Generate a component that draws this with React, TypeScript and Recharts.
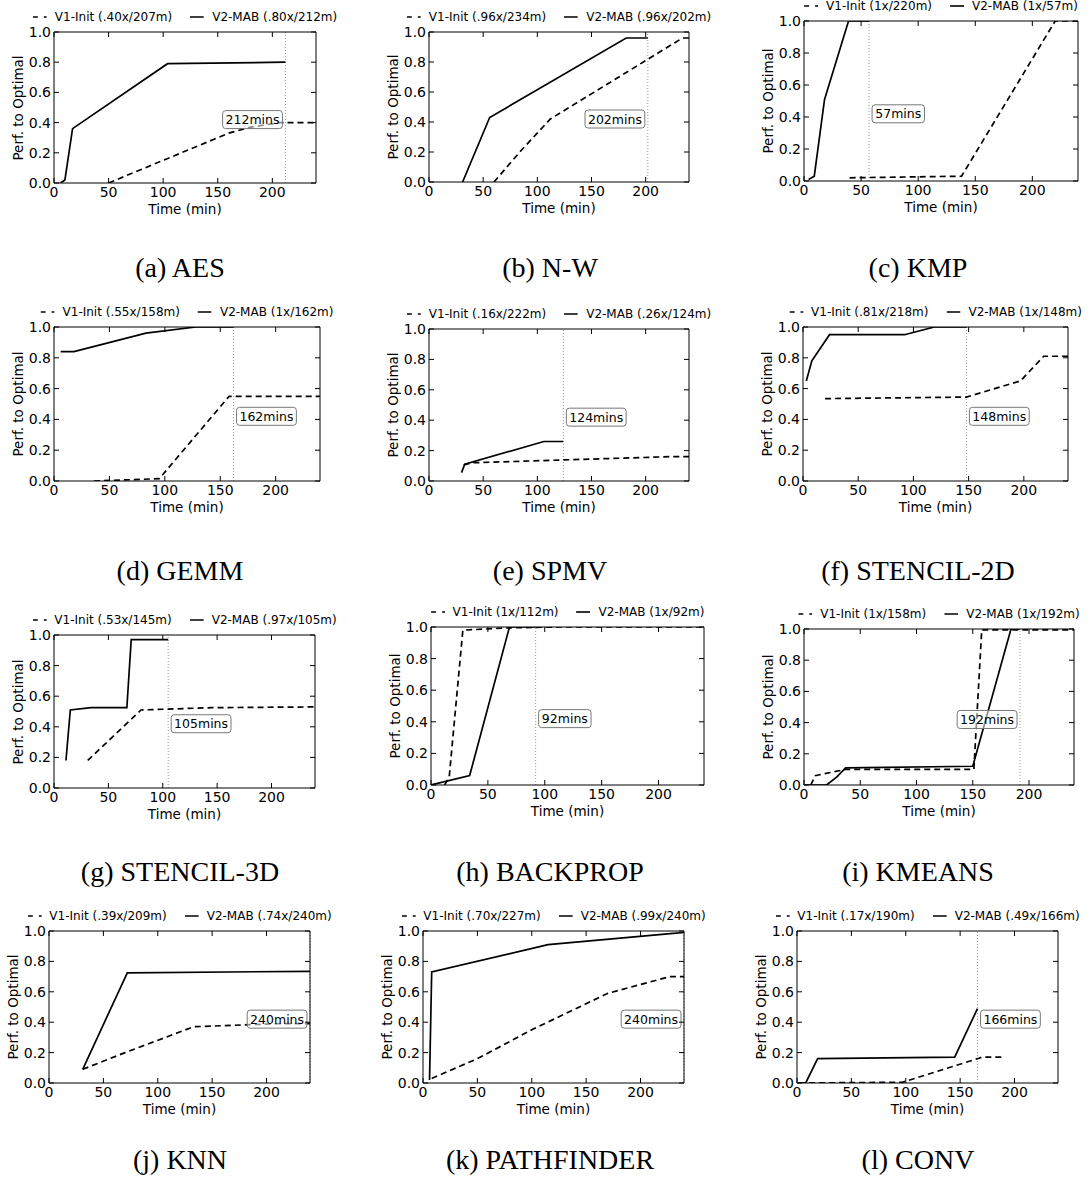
import React from 'react';
import { LineChart, Line, XAxis, YAxis, ReferenceLine, ReferenceDot } from 'recharts';

type Pt = { t: number; p: number };
const pts = (rows: number[][]): Pt[] => rows.map(([t, p]) => ({ t, p }));

// time (min) vs perf. to optimal
const aesInit = pts([[50, 0], [160, 0.33], [180, 0.37], [207, 0.4], [240, 0.4]]);
const aesMab = pts([[6, 0], [10, 0.02], [17, 0.36], [104, 0.79], [212, 0.8]]);
const nwInit = pts([[60, 0], [85, 0.21], [112, 0.42], [234, 0.96], [240, 0.96]]);
const nwMab = pts([[31, 0], [56, 0.43], [182, 0.96], [202, 0.96]]);
const kmpInit = pts([[40, 0.02], [138, 0.03], [220, 1.0], [240, 1.0]]);
const kmpMab = pts([[4, 0.01], [9, 0.03], [18, 0.51], [39, 1.0], [57, 1.0]]);
const gemmInit = pts([[36, 0], [95, 0.015], [158, 0.55], [240, 0.55]]);
const gemmMab = pts([[6, 0.84], [18, 0.84], [83, 0.96], [128, 1.0], [162, 1.0]]);
const spmvInit = pts([[32, 0.105], [40, 0.12], [222, 0.16], [240, 0.16]]);
const spmvMab = pts([[30, 0.055], [33, 0.11], [106, 0.26], [124, 0.26]]);
const st2Init = pts([[20, 0.535], [148, 0.545], [197, 0.65], [218, 0.81], [240, 0.81]]);
const st2Mab = pts([[3, 0.65], [8, 0.78], [24, 0.95], [92, 0.95], [119, 1.0], [148, 1.0]]);
const st3Init = pts([[31, 0.18], [80, 0.51], [145, 0.525], [240, 0.53]]);
const st3Mab = pts([[11, 0.18], [15, 0.51], [34, 0.525], [67, 0.525], [71, 0.97], [105, 0.97]]);
const bpInit = pts([[12, 0], [16, 0.05], [28, 0.98], [70, 0.995], [112, 1.0], [240, 1.0]]);
const bpMab = pts([[0, 0], [34, 0.06], [69, 1.0], [92, 1.0]]);
const kmInit = pts([[6, 0], [10, 0.06], [37, 0.1], [151, 0.1], [158, 0.995], [240, 0.995]]);
const kmMab = pts([[1, 0], [20, 0], [29, 0.05], [37, 0.11], [150, 0.12], [184, 1.0], [192, 1.0]]);
const knnInit = pts([[31, 0.09], [70, 0.2], [133, 0.37], [209, 0.39], [240, 0.39]]);
const knnMab = pts([[31, 0.09], [72, 0.725], [240, 0.735]]);
const pfInit = pts([[8, 0.03], [50, 0.16], [100, 0.35], [170, 0.59], [227, 0.7], [240, 0.7]]);
const pfMab = pts([[6, 0.02], [8, 0.73], [115, 0.91], [230, 0.985], [240, 0.99]]);
const convInit = pts([[2, 0], [97, 0.005], [166, 0.16], [170, 0.17], [190, 0.17]]);
const convMab = pts([[1, 0], [8, 0], [19, 0.16], [145, 0.17], [166, 0.49]]);

const X_TICKS = [0, 50, 100, 150, 200];
const Y_TICKS = [0, 0.2, 0.4, 0.6, 0.8, 1.0];
const MAX_T = 240;
const LABEL_Y = 0.42;

const SANS = 'DejaVu Sans, sans-serif';
const TICK_FS = 14;

const panels = [
  { cap: '(a) AES', init: aesInit, mab: aesMab, v1: '.40x/207m', v2: '.80x/212m', mins: 212, px: 54, py: 32, pw: 262, ph: 151 },
  { cap: '(b) N-W', init: nwInit, mab: nwMab, v1: '.96x/234m', v2: '.96x/202m', mins: 202, px: 429, py: 32, pw: 260, ph: 150 },
  { cap: '(c) KMP', init: kmpInit, mab: kmpMab, v1: '1x/220m', v2: '1x/57m', mins: 57, px: 804, py: 21, pw: 274, ph: 160 },
  { cap: '(d) GEMM', init: gemmInit, mab: gemmMab, v1: '.55x/158m', v2: '1x/162m', mins: 162, px: 54, py: 327, pw: 266, ph: 154 },
  { cap: '(e) SPMV', init: spmvInit, mab: spmvMab, v1: '.16x/222m', v2: '.26x/124m', mins: 124, px: 429, py: 329, pw: 260, ph: 152 },
  { cap: '(f) STENCIL-2D', init: st2Init, mab: st2Mab, v1: '.81x/218m', v2: '1x/148m', mins: 148, px: 803, py: 327, pw: 265, ph: 154 },
  { cap: '(g) STENCIL-3D', init: st3Init, mab: st3Mab, v1: '.53x/145m', v2: '.97x/105m', mins: 105, px: 54, py: 635, pw: 261, ph: 153 },
  { cap: '(h) BACKPROP', init: bpInit, mab: bpMab, v1: '1x/112m', v2: '1x/92m', mins: 92, px: 431, py: 627, pw: 273, ph: 158 },
  { cap: '(i) KMEANS', init: kmInit, mab: kmMab, v1: '1x/158m', v2: '1x/192m', mins: 192, px: 804, py: 629, pw: 270, ph: 156 },
  { cap: '(j) KNN', init: knnInit, mab: knnMab, v1: '.39x/209m', v2: '.74x/240m', mins: 240, px: 49, py: 931, pw: 261, ph: 152 },
  { cap: '(k) PATHFINDER', init: pfInit, mab: pfMab, v1: '.70x/227m', v2: '.99x/240m', mins: 240, px: 423, py: 931, pw: 261, ph: 152 },
  { cap: '(l) CONV', init: convInit, mab: convMab, v1: '.17x/190m', v2: '.49x/166m', mins: 166, px: 797, py: 931, pw: 261, ph: 152 },
];

const CAP_X = [180, 550, 918];
const CAP_Y = [268, 571, 872, 1160];

const BottomTick = ({ x, y, payload }: any) => (
  <g>
    <line x1={x} x2={x} y1={y} y2={y - 5} stroke="#000" />
    <text x={x} y={y + 13.5} textAnchor="middle" fontSize={TICK_FS} fontFamily={SANS} fill="#000">
      {payload.value}
    </text>
  </g>
);
const TopTick = ({ x, y }: any) => <line x1={x} x2={x} y1={y} y2={y + 5} stroke="#000" />;
const LeftTick = ({ x, y, payload }: any) => (
  <g>
    <line x1={x} x2={x + 5} y1={y} y2={y} stroke="#000" />
    <text x={x - 3} y={y + 5} textAnchor="end" fontSize={TICK_FS} fontFamily={SANS} fill="#000">
      {Number(payload.value).toFixed(1)}
    </text>
  </g>
);
const RightTick = ({ x, y }: any) => <line x1={x} x2={x - 5} y1={y} y2={y} stroke="#000" />;

const MinsBox = ({ cx, cy, text, right }: any) => {
  const w = 8 + text.length * 7.4;
  const h = 18;
  const x0 = right ? cx - 3 - w : cx + 3;
  return (
    <g>
      <rect x={x0} y={cy - h / 2} width={w} height={h} rx={3} fill="#fff" fillOpacity={0.55} stroke="#777" />
      <text x={x0 + w / 2} y={cy + 4.5} textAnchor="middle" fontSize={12.5} fontFamily={SANS} fill="#000">
        {text}
      </text>
    </g>
  );
};

const Handle = ({ dashed }: { dashed: boolean }) => (
  <svg width={14} height={10} style={{ marginRight: 8 }}>
    <line x1={0} x2={14} y1={5} y2={5} stroke="#000" strokeWidth={1.6} strokeDasharray={dashed ? '5 6' : undefined} />
  </svg>
);

const TOP_PAD = 12;

const Panel = ({ p, idx }: any) => {
  const W = p.pw + 64;
  const H = p.ph + 40 + TOP_PAD;
  const label = `${p.mins}mins`;
  const right = p.mins + ((8 + label.length * 7.4 + 4) / p.pw) * MAX_T > MAX_T;
  return (
    <>
      <div style={{ position: 'absolute', left: p.px - 60, top: p.py - TOP_PAD }}>
        <LineChart width={W} height={H} margin={{ top: TOP_PAD - 1, right: 3, bottom: 0, left: 0 }}>
          <XAxis dataKey="t" type="number" domain={[0, MAX_T]} ticks={X_TICKS} interval={0} allowDataOverflow
            height={40} tickSize={0} tickMargin={0} tickLine={false} axisLine={{ stroke: '#000' }} tick={<BottomTick />} />
          <XAxis xAxisId="top" orientation="top" dataKey="t" type="number" domain={[0, MAX_T]} ticks={X_TICKS} interval={0} allowDataOverflow
            height={1} tickSize={0} tickMargin={0} tickLine={false} axisLine={{ stroke: '#000' }} tick={<TopTick />} />
          <YAxis type="number" domain={[0, 1]} ticks={Y_TICKS} interval={0} allowDataOverflow width={60}
            tickSize={0} tickMargin={0} tickLine={false} axisLine={{ stroke: '#000' }} tick={<LeftTick />} />
          <YAxis yAxisId="right" orientation="right" type="number" domain={[0, 1]} ticks={Y_TICKS} interval={0} allowDataOverflow width={1}
            tickSize={0} tickMargin={0} tickLine={false} axisLine={{ stroke: '#000' }} tick={<RightTick />} />
          <ReferenceLine x={p.mins} stroke="#999" strokeDasharray="1 2" strokeWidth={1} ifOverflow="visible" />
          <Line data={p.init} dataKey="p" type="linear" stroke="#000" strokeWidth={1.7} strokeDasharray="6 4"
            dot={false} activeDot={false} isAnimationActive={false} />
          <Line data={p.mab} dataKey="p" type="linear" stroke="#000" strokeWidth={1.7}
            dot={false} activeDot={false} isAnimationActive={false} />
          <ReferenceDot x={p.mins} y={LABEL_Y} r={0} ifOverflow="visible"
            shape={(sp: any) => <MinsBox cx={sp.cx} cy={sp.cy} text={label} right={right} />} />
        </LineChart>
      </div>
      <div
        style={{
          position: 'absolute', left: p.px + p.pw / 2, top: p.py - 23, transform: 'translateX(-50%)',
          display: 'flex', alignItems: 'center', whiteSpace: 'nowrap', fontFamily: SANS, fontSize: 12, lineHeight: '16px',
        }}
      >
        <Handle dashed />
        <span>V1-Init ({p.v1})</span>
        <span style={{ width: 18 }} />
        <Handle dashed={false} />
        <span>V2-MAB ({p.v2})</span>
      </div>
      <div style={{ position: 'absolute', left: p.px, width: p.pw, top: p.py + p.ph + 17, textAlign: 'center', fontFamily: SANS, fontSize: 13.5, lineHeight: '18px' }}>
        Time (min)
      </div>
      <div
        style={{
          position: 'absolute', left: p.px - 36, top: p.py + p.ph / 2, transform: 'translate(-50%, -50%) rotate(-90deg)',
          whiteSpace: 'nowrap', fontFamily: SANS, fontSize: 13.5, lineHeight: '18px',
        }}
      >
        Perf. to Optimal
      </div>
      <div
        style={{
          position: 'absolute', left: CAP_X[idx % 3], top: CAP_Y[Math.floor(idx / 3)], transform: 'translate(-50%, -50%)',
          whiteSpace: 'nowrap', fontFamily: 'Liberation Serif, serif', fontSize: 28, lineHeight: '32px',
        }}
      >
        {p.cap}
      </div>
    </>
  );
};

export default function App() {
  return (
    <div style={{ position: 'absolute', left: 0, top: 0, width: 1090, height: 1188, background: '#fff' }}>
      {panels.map((p, i) => (
        <Panel key={p.cap} p={p} idx={i} />
      ))}
    </div>
  );
}
